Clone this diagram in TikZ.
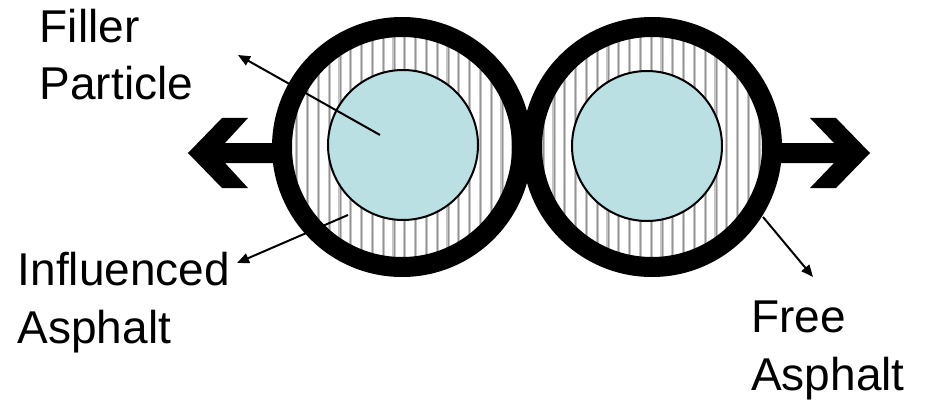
\documentclass[tikz,border=0pt]{standalone}
\usepackage{fontspec}
\setmainfont{Liberation Sans}
\usepackage{xcolor}
\usetikzlibrary{arrows.meta}

\definecolor{filler}{RGB}{187,224,228}

\begin{document}
\begin{tikzpicture}[
    x=1pt, y=-1pt,
    caption/.style={inner sep=0pt, anchor=base west, align=left,
                    font=\fontsize{46}{58}\selectfont},
    pointer/.style={-{Triangle[length=12pt, width=10pt]}, line width=2pt},
    ring/.style={line width=20pt},
    core/.style={draw, line width=2pt, fill=filler},
    bigarrow/.style={fill=black}
  ]
    \useasboundingbox (0,0) rectangle (928,401);
    \coordinate (left) at (402,147);
    \coordinate (right) at (652,147);

    % hatched asphalt around each particle
    \begin{scope}
      \clip (left) circle (120);
      \foreach \i in {0,...,22} {
        \draw[gray!45, line width=3.2pt] (286+10.8*\i,20) -- (286+10.8*\i,280);
        \draw[gray!85, line width=1pt] (286+10.8*\i,20) -- (286+10.8*\i,280);
      }
    \end{scope}
    \begin{scope}
      \clip (right) circle (120);
      \foreach \i in {0,...,22} {
        \draw[gray!45, line width=3.2pt] (532.4+10.8*\i,20) -- (532.4+10.8*\i,280);
        \draw[gray!85, line width=1pt] (532.4+10.8*\i,20) -- (532.4+10.8*\i,280);
      }
    \end{scope}

    % pulling arrows
    \fill[bigarrow] (188,153) -- (222,118) -- (248,118) -- (225,143) -- (290,143)
      -- (290,163) -- (225,163) -- (248,188) -- (222,188) -- cycle;
    \fill[bigarrow] (870,153) -- (836,118) -- (810,118) -- (834,143) -- (765,143)
      -- (765,163) -- (834,163) -- (810,188) -- (836,188) -- cycle;

    \draw[ring] (left) circle (120);
    \draw[ring] (right) circle (120);
    \draw[core] (403,145) circle (75);
    \draw[core] (647,146) circle (75);

    \node[caption] (filler) at (39.5,100) {Filler\\Particle};
    \node[caption] (influenced) at (17.5,343) {Influenced\\Asphalt};
    \node[caption] (free) at (751,390) {Free\\Asphalt};

    \coordinate (fillerend) at (380,135);
    \coordinate (fillertip) at (238,55);
    \coordinate (inflend) at (348,215);
    \coordinate (infltip) at (237,263);
    \coordinate (freeend) at (763,217);
    \coordinate (freetip) at (813,277);

    \draw[pointer] (fillerend) -- (fillertip);
    \draw[pointer] (inflend) -- (infltip);
    \draw[pointer] (freeend) -- (freetip);
  \end{tikzpicture}
\end{document}
